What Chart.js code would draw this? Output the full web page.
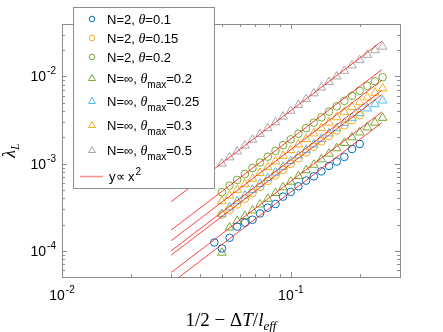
<!DOCTYPE html>
<html>
<head>
<meta charset="utf-8">
<script src="https://cdn.jsdelivr.net/npm/chart.js@4/dist/chart.umd.min.js"></script>
<style>
html, body { margin: 0; padding: 0; background: #fff; }
</style>
</head>
<body>
<canvas id="myChart" width="443" height="332"></canvas>
<script>
// x values shared by all series (1/2 - dT/l_eff)
const xs = [0.0463, 0.05, 0.054, 0.0583, 0.063, 0.068, 0.0734, 0.0793, 0.0857, 0.0925, 0.0999,
            0.108, 0.1166, 0.126, 0.136, 0.1469, 0.1587, 0.1714, 0.1851, 0.1999, 0.2159, 0.2332, 0.2518];

// lambda_L per series (null = no point)
const n2_t010 = [1.245e-4, 1.063e-4, 1.41e-4, 1.89e-4, 2.10e-4, 2.27e-4, 2.68e-4, 3.12e-4, 3.44e-4, 4.18e-4, 4.73e-4,
                 5.49e-4, 6.38e-4, 7.15e-4, 8.15e-4, 9.41e-4, 1.055e-3, 1.194e-3, 1.47e-3, 1.68e-3, null, null, null];
const n2_t015 = [null, 2.6e-4, 2.95e-4, 3.4e-4, 3.95e-4, 4.6e-4, 5.4e-4, 6.3e-4, 7.3e-4, 8.5e-4, 9.9e-4,
                 1.15e-3, 1.34e-3, 1.56e-3, 1.8e-3, 2.08e-3, 2.4e-3, 2.75e-3, 3.15e-3, 3.6e-3, null, null, null];
const n2_t020 = [null, 4.7e-4, 5.6e-4, 6.5e-4, 7.6e-4, 8.9e-4, 1.03e-3, 1.2e-3, 1.4e-3, 1.63e-3, 1.9e-3,
                 2.2e-3, 2.55e-3, 2.95e-3, 3.4e-3, 3.95e-3, 4.55e-3, 5.25e-3, 6.0e-3, 6.85e-3, 7.8e-3, 8.8e-3, 9.8e-3];
const ninf_t020 = [null, 9.5e-5, 1.85e-4, 2.2e-4, 2.5e-4, 2.9e-4, 3.4e-4, 3.95e-4, 4.6e-4, 5.35e-4, 6.2e-4,
                   7.2e-4, 8.4e-4, 9.7e-4, 1.12e-3, 1.3e-3, 1.5e-3, 1.73e-3, 2.0e-3, 2.28e-3, 2.6e-3, 2.95e-3, 3.35e-3];
const ninf_t025 = [null, 2.65e-4, 3.15e-4, 3.7e-4, 4.3e-4, 5.0e-4, 5.85e-4, 6.8e-4, 7.9e-4, 9.2e-4, 1.07e-3,
                   1.24e-3, 1.44e-3, 1.66e-3, 1.92e-3, 2.22e-3, 2.55e-3, 2.93e-3, 3.35e-3, 3.8e-3, 4.3e-3, 4.8e-3, 5.3e-3];
const ninf_t030 = [null, 3.7e-4, 4.3e-4, 5.0e-4, 5.8e-4, 6.7e-4, 7.8e-4, 9.1e-4, 1.06e-3, 1.23e-3, 1.43e-3,
                   1.66e-3, 1.92e-3, 2.22e-3, 2.56e-3, 2.95e-3, 3.4e-3, 3.9e-3, 4.45e-3, 5.05e-3, 5.75e-3, 6.5e-3, 7.3e-3];
const ninf_t050 = [null, 1.0e-3, 1.18e-3, 1.38e-3, 1.61e-3, 1.88e-3, 2.19e-3, 2.55e-3, 2.98e-3, 3.46e-3, 4.04e-3,
                   4.72e-3, 5.5e-3, 6.4e-3, 7.45e-3, 8.65e-3, 1.0e-2, 1.16e-2, 1.34e-2, 1.54e-2, 1.77e-2, 2.0e-2, 2.2e-2];

// y ~ x^2 guide lines: end x values and prefactors
const fitX = [0.03, 0.25];
const fitC = [0.0472, 0.099, 0.192, 0.0626, 0.111, 0.145, 0.406];

// tick values
const xMajor = [0.01, 0.1];
const xMinor = [0.02, 0.03, 0.04, 0.05, 0.06, 0.07, 0.08, 0.09, 0.2, 0.3];
const yMajor = [1e-4, 1e-3, 1e-2];
const yMinor = [6e-5, 7e-5, 8e-5, 9e-5, 2e-4, 3e-4, 4e-4, 5e-4, 6e-4, 7e-4, 8e-4, 9e-4,
                2e-3, 3e-3, 4e-3, 5e-3, 6e-3, 7e-3, 8e-3, 9e-3, 0.02, 0.03];

const series = [
    {ys: n2_t010,  color: '#0072BD', style: 'circle',   name: ['N=2, ', 'θ', '', '=0.1']},
    {ys: n2_t015,  color: '#EDB120', style: 'circle',   name: ['N=2, ', 'θ', '', '=0.15']},
    {ys: n2_t020,  color: '#77AC30', style: 'circle',   name: ['N=2, ', 'θ', '', '=0.2']},
    {ys: ninf_t020, color: '#77AC30', style: 'triangle', name: ['N=∞, ', 'θ', 'max', '=0.2']},
    {ys: ninf_t025, color: '#4DBEEE', style: 'triangle', name: ['N=∞, ', 'θ', 'max', '=0.25']},
    {ys: ninf_t030, color: '#EDB120', style: 'triangle', name: ['N=∞, ', 'θ', 'max', '=0.3']},
    {ys: ninf_t050, color: '#A8A8A8', style: 'triangle', name: ['N=∞, ', 'θ', 'max', '=0.5']}
];

const datasets = [];
series.forEach(s => {
    datasets.push({
        type: 'scatter',
        data: xs.map((x, i) => ({x: x, y: s.ys[i]})).filter(p => p.y !== null),
        borderColor: s.color,
        backgroundColor: 'rgba(0,0,0,0)',
        pointStyle: s.style,
        pointRadius: s.style === 'circle' ? 3.8 : 5,
        borderWidth: 1,
        showLine: false,
        order: 1
    });
});
fitC.forEach(c => {
    datasets.push({
        type: 'line',
        data: fitX.map(x => ({x: x, y: c * x * x})),
        borderColor: 'rgba(255,0,0,0.75)',
        borderWidth: 1,
        pointRadius: 0,
        fill: false,
        order: 0
    });
});

function drawPow(ctx, base, exp, x, y, align) {
    ctx.font = '14px "Liberation Sans", Arial, sans-serif';
    const wb = ctx.measureText(base).width;
    ctx.font = '10px "Liberation Sans", Arial, sans-serif';
    const we = ctx.measureText(exp).width;
    const w = wb + we + 1;
    let x0 = align === 'right' ? x - w : x - w / 2;
    ctx.textAlign = 'left';
    ctx.textBaseline = 'alphabetic';
    ctx.fillStyle = '#000';
    ctx.font = '14px "Liberation Sans", Arial, sans-serif';
    ctx.fillText(base, x0, y + 5);
    ctx.font = '10px "Liberation Sans", Arial, sans-serif';
    ctx.fillText(exp, x0 + wb + 1, y - 2);
}

const decor = {
    id: 'decor',
    beforeDraw(chart) {
        const ctx = chart.ctx;
        ctx.save();
        ctx.fillStyle = '#fff';
        ctx.fillRect(0, 0, chart.width, chart.height);
        ctx.restore();
    },
    afterDraw(chart) {
        const ctx = chart.ctx;
        const a = chart.chartArea;
        const sx = chart.scales.x, sy = chart.scales.y;
        ctx.save();
        // box
        ctx.strokeStyle = '#8c8c8c';
        ctx.lineWidth = 1;
        ctx.strokeRect(Math.round(a.left) + 0.5, Math.round(a.top) + 0.5,
                       Math.round(a.right - a.left), Math.round(a.bottom - a.top));
        // ticks pointing inward on all sides
        ctx.beginPath();
        const tick = (vals, len) => {
            vals.forEach(v => {
                const px = Math.round(sx.getPixelForValue(v)) + 0.5;
                ctx.moveTo(px, a.bottom); ctx.lineTo(px, a.bottom - len);
                ctx.moveTo(px, a.top); ctx.lineTo(px, a.top + len);
            });
        };
        const ticky = (vals, len) => {
            vals.forEach(v => {
                const py = Math.round(sy.getPixelForValue(v)) + 0.5;
                ctx.moveTo(a.left, py); ctx.lineTo(a.left + len, py);
                ctx.moveTo(a.right, py); ctx.lineTo(a.right - len, py);
            });
        };
        tick(xMajor, 5); tick(xMinor, 3);
        ticky(yMajor, 5); ticky(yMinor, 3);
        ctx.stroke();

        // tick labels
        xMajor.forEach(v => {
            drawPow(ctx, '10', String(Math.round(Math.log10(v))), sx.getPixelForValue(v), a.bottom + 18, 'center');
        });
        yMajor.forEach(v => {
            drawPow(ctx, '10', String(Math.round(Math.log10(v))), a.left - 6, sy.getPixelForValue(v), 'right');
        });

        // x axis title: 1/2 − ΔT/l_eff
        const serif = '"Liberation Serif", "DejaVu Serif", serif';
        const parts = [
            ['1/2 − Δ', '19px ' + serif, 0],
            ['T', 'italic 19px ' + serif, 0],
            ['/', '19px ' + serif, 0],
            ['l', 'italic 19px ' + serif, 0],
            ['eff', 'italic 13px ' + serif, 4]
        ];
        let tw = 0;
        parts.forEach(p => { ctx.font = p[1]; tw += ctx.measureText(p[0]).width; });
        let cx = (a.left + a.right) / 2 - tw / 2;
        ctx.fillStyle = '#000';
        ctx.textAlign = 'left';
        ctx.textBaseline = 'alphabetic';
        parts.forEach(p => {
            ctx.font = p[1];
            ctx.fillText(p[0], cx, 326 + p[2]);
            cx += ctx.measureText(p[0]).width;
        });

        // y axis title: lambda_L
        ctx.save();
        ctx.translate(15, (a.top + a.bottom) / 2);
        ctx.rotate(-Math.PI / 2);
        ctx.font = 'italic 18px ' + serif;
        const wl = ctx.measureText('λ').width;
        ctx.font = 'italic 12px ' + serif;
        const wL = ctx.measureText('L').width;
        let lx = -(wl + wL) / 2;
        ctx.font = 'italic 18px ' + serif;
        ctx.fillText('λ', lx, 0);
        ctx.font = 'italic 12px ' + serif;
        ctx.fillText('L', lx + wl, 4);
        ctx.restore();

        // legend
        const L = {x: 73, y: 7, w: 141, h: 181};
        ctx.fillStyle = '#fff';
        ctx.fillRect(L.x, L.y, L.w, L.h);
        ctx.strokeStyle = '#8c8c8c';
        ctx.strokeRect(L.x + 0.5, L.y + 0.5, L.w, L.h);
        const rows = [19, 38, 57, 78, 101, 125, 150, 176];
        const sans = '"Liberation Sans", Arial, sans-serif';
        series.forEach((s, i) => {
            const ry = rows[i];
            ctx.strokeStyle = s.color;
            ctx.lineWidth = 1;
            ctx.beginPath();
            if (s.style === 'circle') {
                ctx.arc(92, ry, 2.8, 0, Math.PI * 2);
            } else {
                ctx.moveTo(92, ry - 3.5); ctx.lineTo(95.5, ry + 2.5); ctx.lineTo(88.5, ry + 2.5); ctx.closePath();
            }
            ctx.stroke();
            let tx = 107;
            const by = ry + 5;
            ctx.fillStyle = '#000';
            ctx.font = '13px ' + sans;
            ctx.fillText(s.name[0], tx, by); tx += ctx.measureText(s.name[0]).width;
            ctx.font = 'italic 14px ' + serif;
            ctx.fillText(s.name[1], tx, by); tx += ctx.measureText(s.name[1]).width;
            if (s.name[2]) {
                ctx.font = '10px ' + sans;
                ctx.fillText(s.name[2], tx, by + 5); tx += ctx.measureText(s.name[2]).width;
            }
            ctx.font = '13px ' + sans;
            ctx.fillText(s.name[3], tx, by);
        });
        // y ∝ x^2 entry
        const ry = rows[7];
        ctx.strokeStyle = 'rgba(255,0,0,0.45)';
        ctx.lineWidth = 1.5;
        ctx.beginPath(); ctx.moveTo(80, ry + 0.5); ctx.lineTo(103, ry + 0.5); ctx.stroke();
        ctx.fillStyle = '#000';
        ctx.font = '13px ' + sans;
        ctx.fillText('y∝ x', 109, ry + 5);
        const wy = ctx.measureText('y∝ x').width;
        ctx.font = '10px ' + sans;
        ctx.fillText('2', 109 + wy + 1, ry - 1);
        ctx.restore();
    }
};

const config = {
    data: {datasets: datasets},
    options: {
        responsive: false,
        animation: false,
        devicePixelRatio: 1,
        layout: {padding: {left: 62, right: 43, top: 24, bottom: 55}},
        plugins: {legend: {display: false}, tooltip: {enabled: false}},
        scales: {
            x: {
                type: 'logarithmic', min: 0.01, max: 0.3,
                ticks: {display: false},
                grid: {display: false, drawTicks: false},
                border: {display: false}
            },
            y: {
                type: 'logarithmic', min: 5e-5, max: 0.04,
                ticks: {display: false},
                grid: {display: false, drawTicks: false},
                border: {display: false}
            }
        }
    },
    plugins: [decor]
};

const myChart = new Chart(document.getElementById('myChart').getContext('2d'), config);
</script>
</body>
</html>
